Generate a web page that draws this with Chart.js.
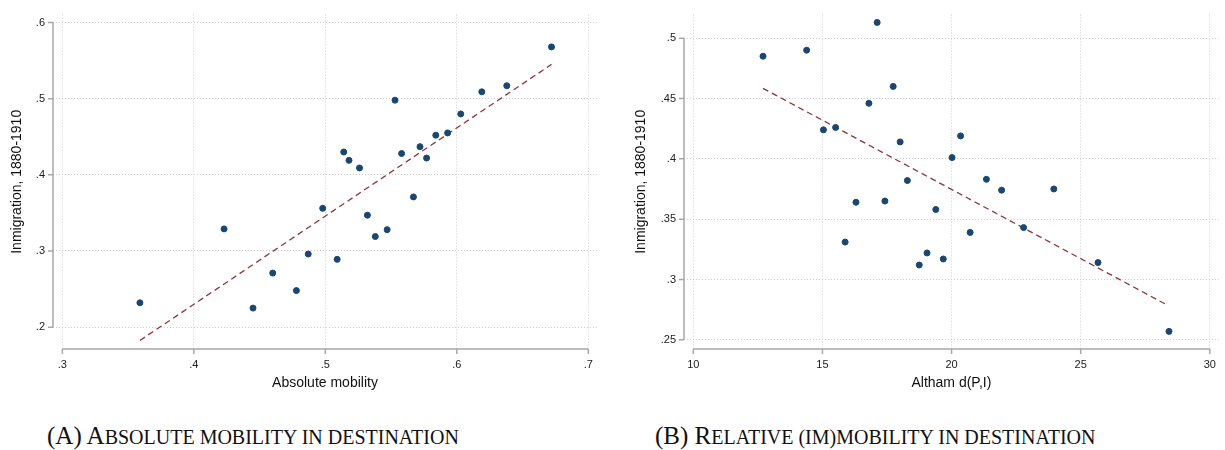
<!DOCTYPE html>
<html>
<head>
<meta charset="utf-8">
<script src="https://cdn.jsdelivr.net/npm/chart.js@4"></script>
<style>
  body { margin: 0; background: #fff; }
  #wrap { position: relative; width: 1225px; height: 450px; overflow: hidden; }
  canvas { position: absolute; top: 0; }
  #absChart { left: 0; }
  #relChart { left: 612px; }
  .caption {
    position: absolute; top: 423px;
    font-family: 'Liberation Serif', 'DejaVu Serif', serif;
    font-size: 25px; line-height: 26px;
    color: #111; white-space: nowrap;
  }
  .caption .sc { font-size: 20px; text-transform: uppercase; }
</style>
</head>
<body>
<div id="wrap">
  <canvas id="absChart" width="612" height="400"></canvas>
  <canvas id="relChart" width="613" height="400"></canvas>
  <div class="caption" style="left:47px">(A) A<span class="sc">bsolute mobility in destination</span></div>
  <div class="caption" style="left:655px">(B) R<span class="sc">elative (im)mobility in destination</span></div>
</div>
<script>
// Panel A: absolute mobility vs. immigration share
const absMobility = [0.359, 0.423, 0.445, 0.460, 0.478, 0.487, 0.498, 0.509, 0.514, 0.518,
  0.526, 0.532, 0.538, 0.547, 0.553, 0.558, 0.567, 0.572, 0.577, 0.584,
  0.593, 0.603, 0.619, 0.638, 0.672];
const immigA = [0.232, 0.329, 0.225, 0.271, 0.248, 0.296, 0.356, 0.289, 0.430, 0.419,
  0.409, 0.347, 0.319, 0.328, 0.498, 0.428, 0.371, 0.437, 0.422, 0.452,
  0.455, 0.480, 0.509, 0.517, 0.568];
const fitAx = [0.359, 0.672];
const fitAy = [0.1825, 0.545];

// Panel B: Altham distance vs. immigration share
const althamD = [12.70, 14.39, 15.04, 15.51, 15.88, 16.30, 16.80, 17.12, 17.42, 17.74,
  18.01, 18.29, 18.75, 19.05, 19.39, 19.68, 20.02, 20.35, 20.72, 21.35,
  21.94, 22.79, 23.96, 25.67, 28.42];
const immigB = [0.485, 0.490, 0.424, 0.426, 0.331, 0.364, 0.446, 0.513, 0.365, 0.460,
  0.414, 0.382, 0.312, 0.322, 0.358, 0.317, 0.401, 0.419, 0.339, 0.383,
  0.374, 0.343, 0.375, 0.314, 0.257];
const fitBx = [12.70, 28.38];
const fitBy = [0.4584, 0.2785];

// tick values
const ticksAx = [0.3, 0.4, 0.5, 0.6, 0.7];
const ticksAy = [0.2, 0.3, 0.4, 0.5, 0.6];
const ticksBx = [10, 15, 20, 25, 30];
const ticksBy = [0.25, 0.3, 0.35, 0.4, 0.45, 0.5];

const dotColor = '#1a476f';
const fitColor = '#90353b';
const axisColor = '#a8a8a8';
const gridColor = '#cfcfcf';

function pts(xs, ys) { return xs.map((x, i) => ({ x: x, y: ys[i] })); }

// Stata style: leading-dot decimals (.3, .45)
function stataLabel(v) {
  let s = String(Math.round(v * 1000) / 1000);
  return s.startsWith('0.') ? s.slice(1) : s;
}

// axis lines only span the labelled range, with outward tick marks
const axisLines = {
  id: 'axisLines',
  afterDraw(chart) {
    const c = chart.ctx, x = chart.scales.x, y = chart.scales.y;
    const area = chart.chartArea;
    c.save();
    c.strokeStyle = axisColor;
    c.lineWidth = 1.5;
    c.beginPath();
    const yT = y.ticks.map(t => y.getPixelForValue(t.value));
    c.moveTo(area.left, Math.min(...yT));
    c.lineTo(area.left, Math.max(...yT));
    yT.forEach(p => { c.moveTo(area.left, p); c.lineTo(area.left - 5, p); });
    const xT = x.ticks.map(t => x.getPixelForValue(t.value));
    c.moveTo(Math.min(...xT), area.bottom);
    c.lineTo(Math.max(...xT), area.bottom);
    xT.forEach(p => { c.moveTo(p, area.bottom); c.lineTo(p, area.bottom + 5); });
    c.stroke();
    c.restore();
  }
};

function makeScatter(canvasId, cfg) {
  const ctx = document.getElementById(canvasId).getContext('2d');
  return new Chart(ctx, {
    type: 'scatter',
    data: {
      datasets: [{
        data: pts(cfg.xs, cfg.ys),
        backgroundColor: dotColor,
        borderColor: dotColor,
        pointRadius: 3,
        pointHoverRadius: 3,
        order: 1
      }, {
        data: pts(cfg.fitX, cfg.fitY),
        showLine: true,
        borderColor: fitColor,
        borderWidth: 1.3,
        borderDash: [6, 4],
        pointRadius: 0,
        order: 2
      }]
    },
    options: {
      responsive: false,
      animation: false,
      devicePixelRatio: 1,
      layout: { padding: { top: 13, right: cfg.padRight, bottom: 0, left: 0 } },
      plugins: { legend: { display: false }, tooltip: { enabled: false } },
      scales: {
        x: {
          type: 'linear',
          min: cfg.xMin, max: cfg.xMax,
          afterBuildTicks: s => { s.ticks = cfg.xTicks.map(v => ({ value: v })); },
          afterFit: s => { s.height = 51; },
          ticks: {
            callback: v => stataLabel(v),
            color: '#222', padding: 9, maxRotation: 0,
            font: { family: 'Liberation Sans', size: 11 }
          },
          grid: { color: gridColor, lineWidth: 1, drawTicks: false },
          border: { display: false, dash: [1, 2] },
          title: {
            display: true, text: cfg.xTitle, color: '#111',
            padding: { top: 0, bottom: 8.6 },
            font: { family: 'Liberation Sans', size: 14 }
          }
        },
        y: {
          type: 'linear',
          min: cfg.yMin, max: cfg.yMax,
          afterBuildTicks: s => { s.ticks = cfg.yTicks.map(v => ({ value: v })); },
          afterFit: s => { s.width = cfg.yWidth; },
          ticks: {
            callback: v => stataLabel(v),
            color: '#222', padding: 8,
            font: { family: 'Liberation Sans', size: 11 }
          },
          grid: { color: gridColor, lineWidth: 1, drawTicks: false },
          border: { display: false, dash: [1, 2] },
          title: {
            display: true, text: 'Inmigration, 1880-1910', color: '#111',
            padding: { top: cfg.yTitlePad, bottom: 0 },
            font: { family: 'Liberation Sans', size: 14 }
          }
        }
      }
    },
    plugins: [axisLines]
  });
}

document.addEventListener('DOMContentLoaded', function() {
  makeScatter('absChart', {
    xs: absMobility, ys: immigA, fitX: fitAx, fitY: fitAy,
    xMin: 0.2929, xMax: 0.7066, yMin: 0.1713, yMax: 0.6104,
    xTicks: ticksAx, yTicks: ticksAy,
    xTitle: 'Absolute mobility',
    yWidth: 53, yTitlePad: 8.6, padRight: 15
  });
  makeScatter('relChart', {
    xs: althamD, ys: immigB, fitX: fitBx, fitY: fitBy,
    xMin: 9.641, xMax: 30.347, yMin: 0.2424, yMax: 0.5195,
    xTicks: ticksBx, yTicks: ticksBy,
    xTitle: 'Altham d(P,I)',
    yWidth: 72, yTitlePad: 20.6, padRight: 4
  });
});
</script>
</body>
</html>
